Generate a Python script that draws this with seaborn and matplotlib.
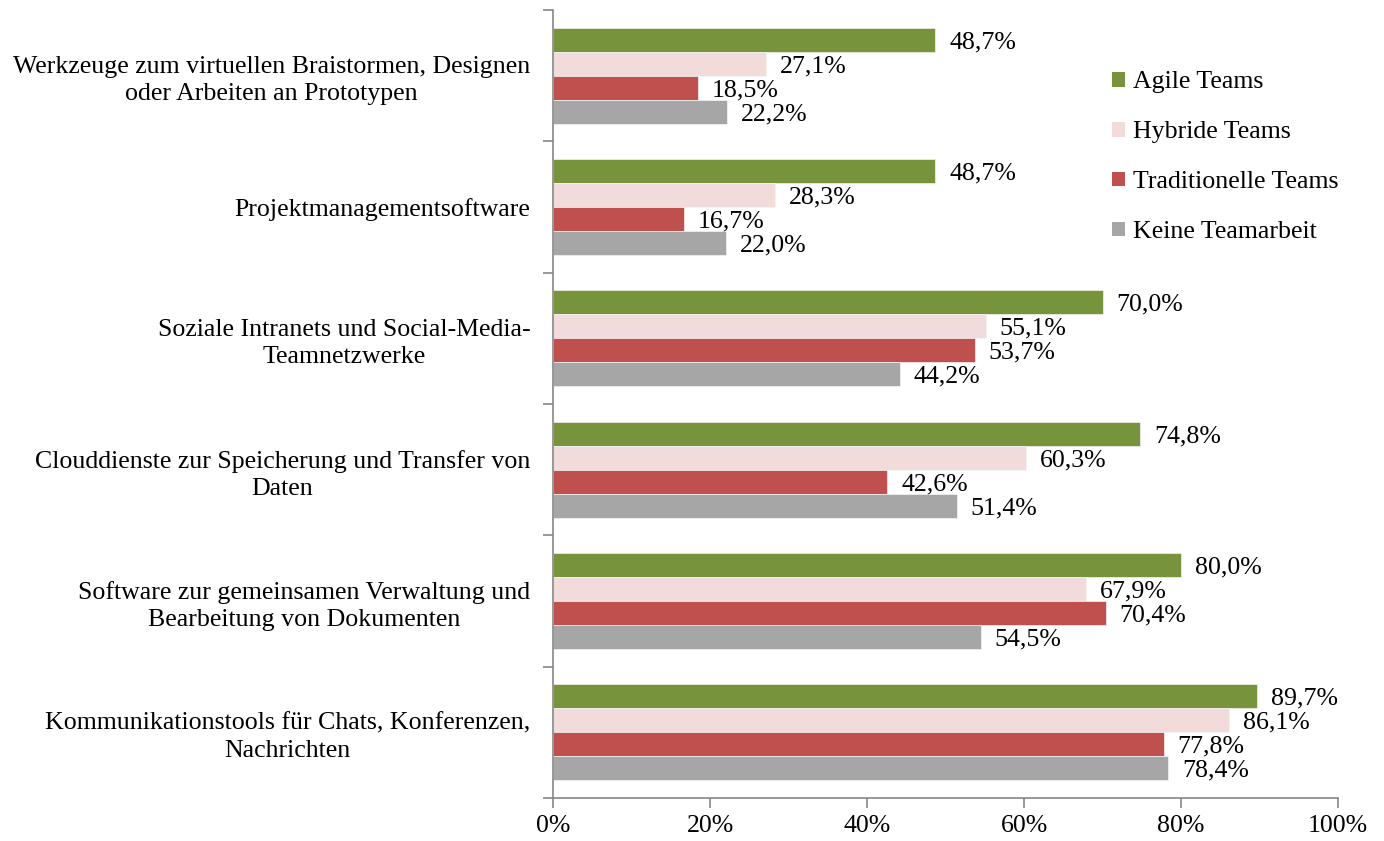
import pandas as pd
import matplotlib.pyplot as plt
import seaborn as sns
from matplotlib.patches import Patch

# Chart data
categories = [
    "Werkzeuge zum virtuellen Braistormen, Designen\noder Arbeiten an Prototypen",
    "Projektmanagementsoftware",
    "Soziale Intranets und Social-Media-\nTeamnetzwerke",
    "Clouddienste zur Speicherung und Transfer von\nDaten",
    "Software zur gemeinsamen Verwaltung und\nBearbeitung von Dokumenten",
    "Kommunikationstools für Chats, Konferenzen,\nNachrichten",
]
groups = ["Agile Teams", "Hybride Teams", "Traditionelle Teams", "Keine Teamarbeit"]
agile = [48.7, 48.7, 70.0, 74.8, 80.0, 89.7]
hybrid = [27.1, 28.3, 55.1, 60.3, 67.9, 86.1]
traditional = [18.5, 16.7, 53.7, 42.6, 70.4, 77.8]
none_team = [22.2, 22.0, 44.2, 51.4, 54.5, 78.4]
x_ticks = [0, 20, 40, 60, 80, 100]

colors = ["#77933C", "#F2DCDB", "#C0504D", "#A6A6A6"]

# Long form table for seaborn
rows = []
for g, vals in zip(groups, [agile, hybrid, traditional, none_team]):
    for c, v in zip(categories, vals):
        rows.append({"Kategorie": c, "Gruppe": g, "Wert": v})
df = pd.DataFrame(rows)

sns.set_style("white")
plt.rcParams["font.family"] = ["Liberation Serif", "DejaVu Serif"]
plt.rcParams["text.color"] = "black"
plt.rcParams["xtick.color"] = "black"
plt.rcParams["ytick.color"] = "black"
fs = 18.6

fig = plt.figure(figsize=(13.84, 8.41), dpi=100)
ax = fig.add_axes([0.3996, 0.0511, 0.5672, 0.9370])

sns.barplot(data=df, x="Wert", y="Kategorie", hue="Gruppe", order=categories,
            hue_order=groups, palette=colors, width=0.73, saturation=1,
            errorbar=None, ax=ax, legend=False, linewidth=0.5, edgecolor="#f4f4f4")

# Value labels with German decimal comma
for cont in ax.containers:
    labels = [f"{b.get_width():.1f}%".replace(".", ",") for b in cont]
    texts = ax.bar_label(cont, labels=labels, padding=10, fontsize=fs, color="black")
    for t in texts:
        t.set_va("center_baseline")

ax.set_xlim(0, 100)
ax.set_ylim(len(categories) - 0.5, -0.5)
ax.set_xticks(x_ticks)
ax.set_xticklabels([f"{t}%" for t in x_ticks], fontsize=fs)
ax.set_xlabel("")
ax.set_ylabel("")

# Category labels centered, ticks at group boundaries
ax.set_yticks(range(len(categories)))
ax.set_yticklabels(categories, fontsize=fs, multialignment="center")
for lbl in ax.get_yticklabels():
    lbl.set_linespacing(1.3)
ax.set_yticks([i - 0.5 for i in range(len(categories) + 1)], minor=True)
ax.tick_params(axis="y", which="major", length=0, pad=16.5)
ax.tick_params(axis="y", which="minor", length=7, width=1.2, color="#868686", left=True)
ax.tick_params(axis="x", length=7, width=1.2, color="#868686", labelcolor="black", bottom=True, pad=5)

for side in ["top", "right"]:
    ax.spines[side].set_visible(False)
for side in ["left", "bottom"]:
    ax.spines[side].set_color("#868686")
    ax.spines[side].set_linewidth(1.2)
ax.grid(False)

handles = [Patch(facecolor=c, edgecolor="none") for c in colors]
ax.legend(handles, groups, loc="upper left", bbox_to_anchor=(0.712, 0.922),
          frameon=False, fontsize=fs, handlelength=0.5, handleheight=0.5,
          handletextpad=0.3, labelspacing=1.08, borderaxespad=0, borderpad=0)

fig.savefig("out.png", dpi=100)
